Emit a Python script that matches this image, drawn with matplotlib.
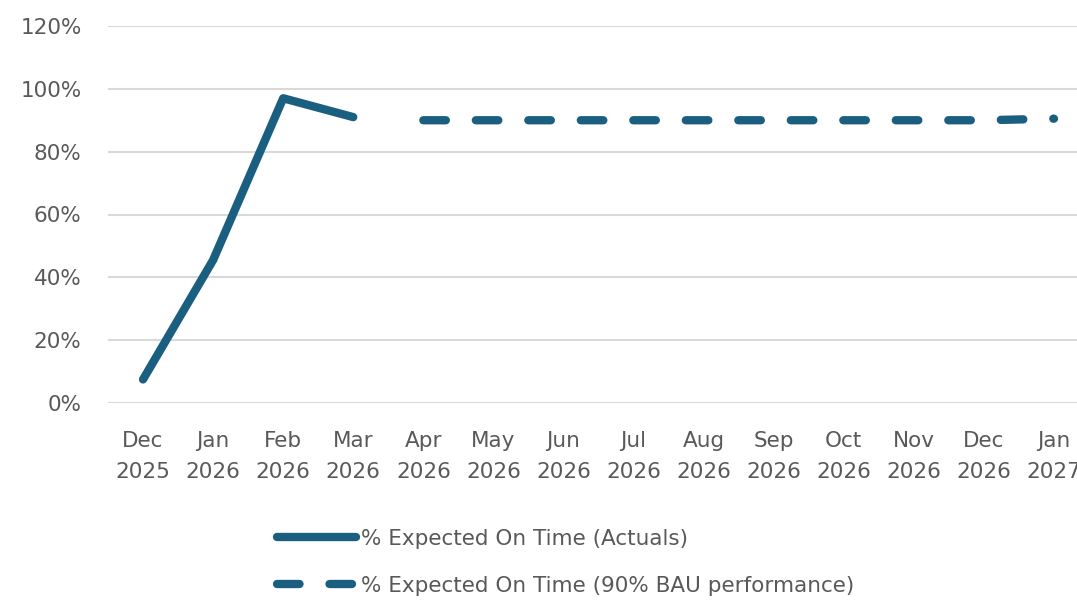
import matplotlib.pyplot as plt
from matplotlib.ticker import PercentFormatter

months = ["Dec\n2025", "Jan\n2026", "Feb\n2026", "Mar\n2026", "Apr\n2026", "May\n2026",
          "Jun\n2026", "Jul\n2026", "Aug\n2026", "Sep\n2026", "Oct\n2026", "Nov\n2026",
          "Dec\n2026", "Jan\n2027"]
actuals = [7.5, 45.5, 97, 91]
bau = [90, 90, 90, 90, 90, 90, 90, 90, 90, 90.5]

blue = "#1b5f80"
grey = "#595959"

plt.rcParams['font.family'] = ['DejaVu Sans']

fig = plt.figure(figsize=(10.77, 6), dpi=100)
ax = fig.add_axes([108 / 1077, 1 - 403 / 600, (1089 - 108) / 1077, (403 - 26) / 600])

x = list(range(len(months)))
ax.plot(x[:len(actuals)], actuals, color=blue, lw=6, solid_capstyle='round',
        solid_joinstyle='round', label="% Expected On Time (Actuals)")
ax.plot(x[len(actuals):], bau, color=blue, lw=6, dashes=(2.7, 3.6),
        dash_capstyle='round', label="% Expected On Time (90% BAU performance)")

ax.set_xlim(-0.5, len(months) - 0.5)
ax.set_ylim(0, 120)
ax.set_yticks(range(0, 121, 20))
ax.yaxis.set_major_formatter(PercentFormatter(decimals=0))
ax.set_xticks(x)
ax.set_xticklabels(months, linespacing=1.7)
ax.tick_params(axis='both', length=0, labelsize=15.5, colors=grey)
ax.tick_params(axis='x', pad=20)
ax.tick_params(axis='y', pad=19)
ax.grid(axis='y', color='#d9d9d9', lw=1.5)
ax.set_axisbelow(True)
for s in ax.spines.values():
    s.set_visible(False)

leg = fig.legend(loc='upper left', bbox_to_anchor=(266 / 1077, 1 - 518 / 600),
                 frameon=False, fontsize=15.5, handlelength=3.7, handletextpad=0.2,
                 labelspacing=1.25, borderpad=0)
for t in leg.get_texts():
    t.set_color(grey)

fig.savefig("out.png", dpi=100)
